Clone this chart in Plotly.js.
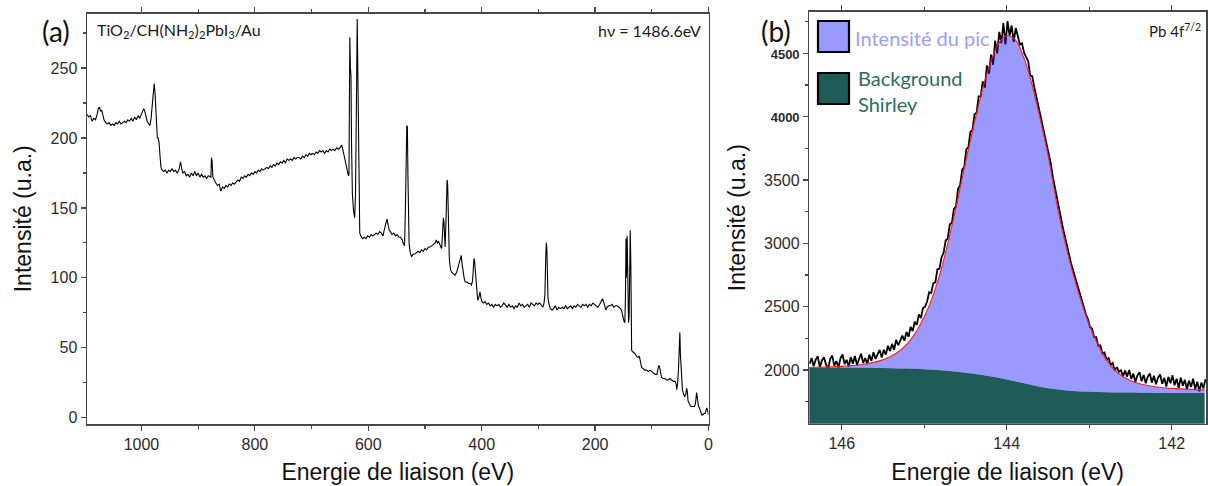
<!DOCTYPE html>
<html>
<head>
<meta charset="utf-8">
<script src="https://cdn.plot.ly/plotly-3.0.1.min.js"></script>
<style>
  html, body { margin: 0; padding: 0; background: #fff; }
  #chart { width: 1208px; height: 486px; }
</style>
</head>
<body>
<div id="chart"></div>
<script>
// (a) XPS survey spectrum: binding energy (eV) and intensity (a.u.)
const surveyEnergy = [
  1096,1093,1090,1087,1084,1081,1078,1076,1074,1072,1070,1068,1066,1063,1060,1057,1054,1051,1048,1045,
  1042,1039,1036,1033,1030,1027,1024,1021,1018,1015,1012,1009,1006,1003,1000,998,996,994,992,990,
  987,985,983,981,979,977.5,976,975,973.5,972,970.5,969,967,965.5,963.5,961,958,955,952,949,
  946,943,940,937,934,931,929,927,924,921,918,915,912,909,906,903,900,897,894,891,
  888,885,882,879,877.5,876.5,875.5,874,872,869,866,863,860,857,854,851,848,845,842,839,
  836,833,830,827,824,821,818,815,812,809,806,803,800,797,794,791,788,785,782,779,
  776,773,770,767,764,761,758,755,752,749,746,743,740,737,734,731,728,725,722,719,
  716,713,710,707,704,701,698,695,692,689,686,683,680,677,674,671,668,665,662,659,
  656,653,650,647,645,643,641,639,637,635,634,633.5,632.5,631.5,630.5,629.5,628,626,624,622.5,
  621.5,620.5,619.5,618.5,617.5,616.5,615,613,610,607,604,601,598,595,592,589,586,583,580,577,
  574,572,570,568,567,565,563,561,558,555,552,549,546,543,540,538,536,534.5,533.5,532,
  531,530,529,528,526,523.5,521,518,515,512,509,506,503,500,497,494,491,488,485,482,
  480,478,476,474,472,470.5,469,467.5,466.5,465.5,464.5,463,462,461,460,459,458,457,455,453,
  450,447,444,441,439,437,436,434.5,433,431,429,426,423,420.5,418,416,414.5,413.5,412.5,411,
  410,408.5,407,405,403,401,399.5,397,394,391,388,385,382,379,376,373,370,367,364,361,
  358,355,352,349,346,343,340,337,334,331,328,325,322,319,316,313,310,307,304,301,
  298,295,292,290,288.5,287,286,285,284,283,281,279,276,273,270,267,264,261,258,255,
  252,249,246,243,240,237,234,231,228,225,222,219,216,213,210,207,204,201,198,195,
  192,189,187,185,183,181,179,176,173,170,167,164,161,158,155,153,151,149,147.5,146.5,
  145.5,145,144.5,144,143.5,143,142,141,140,139,138,137,136.2,135.5,133,130,127,124,122,120,
  118,115,112,109,106,103,100,97,94,91,89,88,86.5,85,83,80,77,74,71,68,
  65,62,59,57,56,54.5,53,51.5,50.5,49.5,48.5,47,46,44,42,40,38.5,37.5,36,34,
  31,28,25,23,22,21,20,18,16,14,12,10,8,6,4,3,1.5,0
];
const surveyCounts = [
  217,215,216,212,214,213,217,221,222,219,220,215,213,211,210,211,209,210,209,211,
  210,212,210,211,212,211,213,212,214,212,215,213,216,214,217,220,221,219,214,212,
  210,209,214,222,230,239,232,224,210,200,200,197,186,179,177,176,177,175,177,176,
  178,176,177,175,177,183,178,175,176,173,174,172,175,173,176,173,175,172,174,172,
  173,171,173,172,172,186,184,172,170,168,166,167,162,165,164,166,165,167,166,168,
  167,169,170,169,172,171,173,172,174,173,175,174,176,175,177,176,178,177,178,179,
  178,180,179,181,180,182,181,183,182,184,182,185,184,185,184,186,185,186,186,185,
  187,186,188,187,189,188,189,188,190,189,191,190,191,189,191,190,192,191,192,191,
  193,192,193,195,192,188,185,180,175,173,174,200,272,250,245,196,160,148,143,160,
  185,240,285,250,220,158,132,130,128,129,128,130,129,131,130,131,132,131,133,132,
  130,134,137,140,142,138,134,133,131,132,130,131,129,129,127,124,123,150,172,209,
  208,172,140,125,118,115,117,117,118,119,118,120,119,121,120,122,122,123,124,125,
  127,125,126,123,122,121,130,143,140,125,122,140,165,170,167,150,130,113,106,104,
  103,102,104,108,112,115,116,110,104,100,97,97,96,96,95,98,108,114,112,102,
  96,90,84,86,90,85,83,82,83,81,82,80,81,79,81,80,81,79,80,82,
  80,79,81,79,80,78,80,79,82,80,81,79,80,81,79,82,81,80,82,81,
  82,80,79,82,88,115,125,120,100,85,81,78,77,78,80,77,79,78,79,78,
  80,78,79,80,78,80,79,81,80,79,81,80,81,79,81,80,82,81,80,79,
  81,83,85,83,79,77,79,80,80,81,79,80,80,79,78,76,72,69,68,85,
  128,100,126,110,130,115,75,68,72,120,134,110,60,48,47,46,44,43,44,41,
  36,35,34,34,33,34,33,32,31,31,35,37,37,32,29,28,28,27,27,28,
  27,26,26,24,20,24,34,50,61,45,34,24,20,17,15,17,21,19,12,10,
  8,8,8,10,15,18,15,9,7,5,2,2,3,3,5,7,5,2
];

// (b) Pb 4f7/2 core level: measured counts on a 0.025 eV grid starting at 146.39 eV
const pbStartEnergy = 146.39;
const pbStepEnergy = 0.025;
const pbCounts = [
  2048,2095,2030,2082,2108,2021,2075,2100,2042,2010,2086,2114,2035,2071,2019,2093,2122,2046,2080,2028,
  2102,2050,2111,2039,2087,2128,2054,2095,2046,2120,2072,2141,2087,2130,2158,2099,2160,2122,2191,2150,
  2206,2160,2238,2195,2229,2272,2231,2300,2263,2340,2308,2381,2356,2438,2410,2488,2500,2541,2614,2608,
  2686,2692,2795,2800,2890,2925,3022,3038,3150,3160,3272,3290,3430,3458,3580,3602,3741,3758,3880,3895,
  4020,4031,4160,4162,4278,4230,4405,4340,4490,4410,4600,4500,4670,4580,4740,4570,4755,4640,4720,4590,
  4700,4630,4570,4580,4508,4470,4440,4325,4320,4230,4155,4092,4020,3950,3862,3790,3710,3630,3522,3438,
  3345,3280,3190,3110,3040,2965,2900,2830,2775,2720,2650,2605,2540,2492,2440,2400,2340,2325,2260,2260,
  2190,2195,2130,2138,2082,2094,2040,2055,1995,2022,1985,1998,1950,1995,1948,2000,1930,1972,1905,1958,
  1982,1911,1960,1895,1948,1972,1900,1955,1888,1940,1965,1892,1938,1870,1946,1895,1958,1880,1931,1860,
  1940,1875,1922,1848,1915,1866,1932,1850,1908,1832,1900,1855,1928
];
const pbEnergy = pbCounts.map((_, i) => +(pbStartEnergy - pbStepEnergy * i).toFixed(3));

// Fitted envelope (peak + background)
const fitEnergy = [
  146.4,146.3,146.2,146.1,146.0,145.9,145.8,145.7,145.6,145.5,145.4,145.3,145.2,145.1,145.0,
  144.9,144.8,144.7,144.6,144.5,144.4,144.3,144.2,144.1,144.0,143.9,143.8,143.7,143.6,143.5,
  143.4,143.3,143.2,143.1,143.0,142.9,142.8,142.7,142.6,142.5,142.4,142.3,142.2,142.1,142.0,
  141.9,141.8,141.7,141.6
];
const fitCounts = [
  2020,2022,2024,2026,2029,2034,2040,2050,2062,2080,2108,2150,2210,2300,2420,
  2575,2780,3040,3330,3640,3930,4200,4420,4575,4640,4610,4480,4270,4000,3700,
  3340,3030,2770,2550,2360,2210,2090,2005,1952,1918,1894,1879,1868,1860,1855,
  1851,1848,1845,1843
];

// Shirley background
const shirleyEnergy = [
  146.4,146.2,146.0,145.8,145.6,145.4,145.2,145.0,144.8,144.6,144.4,144.2,
  144.0,143.8,143.6,143.4,143.2,143.0,142.8,142.6,142.4,142.0,141.6
];
const shirleyCounts = [
  2018,2018,2018,2017,2016,2014,2011,2006,1998,1987,1970,1950,
  1925,1897,1868,1848,1835,1828,1824,1822,1821,1819,1818
];

const W = 1208, H = 486;
const px = v => v / W;
const py = v => 1 - v / H;

const axisLine = '#474747';
const tickFont = { family: 'Liberation Sans, Arial, sans-serif', size: 16, color: '#2b2b2b' };
const titleFont = { family: 'Liberation Sans, Arial, sans-serif', size: 23, color: '#111' };
const labelFont = 'Lato, "Open Sans", sans-serif';
const peakColor = '#9999ff';
const shirleyColor = '#205c57';

const traces = [
  {
    x: surveyEnergy, y: surveyCounts, xaxis: 'x', yaxis: 'y',
    type: 'scatter', mode: 'lines', line: { color: '#000', width: 1.1 }, hoverinfo: 'skip'
  },
  {
    x: pbEnergy, y: pbCounts, xaxis: 'x2', yaxis: 'y2',
    type: 'scatter', mode: 'lines', line: { color: '#000', width: 1.8 }, hoverinfo: 'skip'
  },
  {
    x: shirleyEnergy, y: shirleyCounts, xaxis: 'x2', yaxis: 'y2',
    type: 'scatter', mode: 'lines', line: { color: shirleyColor, width: 0, shape: 'spline' },
    fill: 'tozeroy', fillcolor: shirleyColor, hoverinfo: 'skip'
  },
  {
    x: fitEnergy, y: fitCounts, xaxis: 'x2', yaxis: 'y2',
    type: 'scatter', mode: 'lines', line: { color: '#ff1a1a', width: 1.1, shape: 'spline' },
    fill: 'tonexty', fillcolor: 'rgba(0,0,255,0.4)', hoverinfo: 'skip'
  }
];

const baseAxis = {
  showline: true, linecolor: axisLine, linewidth: 1.5,
  ticks: 'outside', ticklen: 5, tickwidth: 1.2, tickcolor: axisLine,
  tickfont: tickFont, showgrid: false, zeroline: false
};

// legend swatches (paper coordinates)
const swatch = (top, color) => ({
  type: 'rect', xref: 'paper', yref: 'paper', layer: 'above',
  x0: px(818), x1: px(849), y0: py(top + 31), y1: py(top),
  fillcolor: color, line: { color: '#000', width: 2.2 }
});

const layout = {
  width: W, height: H,
  margin: { l: 0, r: 0, t: 0, b: 0 },
  paper_bgcolor: '#fff', plot_bgcolor: '#fff',
  showlegend: false,
  font: { family: 'Liberation Sans, Arial, sans-serif' },
  xaxis: Object.assign({}, baseAxis, {
    domain: [px(87), px(708.5)], anchor: 'y',
    range: [1096, 0], tickvals: [1000, 800, 600, 400, 200, 0], mirror: 'ticks',
    minor: { dtick: 100, tick0: 0, ticks: 'outside', ticklen: 3, tickcolor: axisLine },
    title: { text: 'Energie de liaison (eV)', font: titleFont, standoff: 12 }
  }),
  yaxis: Object.assign({}, baseAxis, {
    domain: [py(424), py(13.5)], anchor: 'x',
    range: [-4.5, 289], tickvals: [0, 50, 100, 150, 200, 250], mirror: true,
    minor: { dtick: 25, tick0: 0, ticks: 'outside', ticklen: 3, tickcolor: axisLine },
    title: { text: 'Intensité (u.a.)', font: titleFont, standoff: 12 }
  }),
  xaxis2: Object.assign({}, baseAxis, {
    domain: [px(809.3), px(1206)], anchor: 'y2',
    range: [146.393, 141.584], tickvals: [146, 144, 142], mirror: 'ticks',
    minor: { dtick: 1, tick0: 0, ticks: 'outside', ticklen: 3, tickcolor: axisLine },
    title: { text: 'Energie de liaison (eV)', font: titleFont, standoff: 12 }
  }),
  yaxis2: Object.assign({}, baseAxis, {
    domain: [py(423.7), py(11.7)], anchor: 'x2',
    range: [1576, 4829], mirror: true,
    tickvals: [2000, 2500, 3000, 3500, 4000, 4500],
    ticktext: ['2000', '2500', '3000', '3500',
      '<span style="font-size:13px;font-weight:bold">4000</span>',
      '<span style="font-size:13px;font-weight:bold">4500</span>'],
    minor: { dtick: 250, tick0: 0, ticks: 'outside', ticklen: 3, tickcolor: axisLine },
    title: { text: 'Intensité (u.a.)', font: titleFont, standoff: 12 }
  }),
  shapes: [swatch(21, peakColor), swatch(73, shirleyColor)],
  annotations: [
    { xref: 'paper', yref: 'paper', x: px(56), y: py(31), text: '(a)', showarrow: false,
      font: { family: labelFont, size: 28, color: '#111' }, xanchor: 'center', yanchor: 'middle' },
    { xref: 'paper', yref: 'paper', x: px(776), y: py(31), text: '(b)', showarrow: false,
      font: { family: labelFont, size: 28, color: '#111' }, xanchor: 'center', yanchor: 'middle' },
    { xref: 'paper', yref: 'paper', x: px(95), y: py(31),
      text: 'TiO<sub>2</sub>/CH(NH<sub>2</sub>)<sub>2</sub>PbI<sub>3</sub>/Au', showarrow: false,
      font: { family: labelFont, size: 16, color: '#1a1a1a' }, xanchor: 'left', yanchor: 'middle' },
    { xref: 'paper', yref: 'paper', x: px(703), y: py(31), text: 'hν = 1486.6eV', showarrow: false,
      font: { family: labelFont, size: 16, color: '#1a1a1a' }, xanchor: 'right', yanchor: 'middle' },
    { xref: 'paper', yref: 'paper', x: px(1203), y: py(30), text: 'Pb 4f<sup>7/2</sup>', showarrow: false,
      font: { family: labelFont, size: 15, color: '#1a1a1a' }, xanchor: 'right', yanchor: 'middle' },
    { xref: 'paper', yref: 'paper', x: px(853), y: py(38), text: 'Intensité du pic', showarrow: false,
      font: { family: labelFont, size: 20, color: '#9d9dff' }, xanchor: 'left', yanchor: 'middle' },
    { xref: 'paper', yref: 'paper', x: px(856), y: py(91), text: 'Background<br>Shirley', showarrow: false,
      align: 'left', font: { family: labelFont, size: 20, color: '#2e6c66' }, xanchor: 'left', yanchor: 'middle' }
  ]
};

Plotly.newPlot('chart', traces, layout, { staticPlot: true, displayModeBar: false });
</script>
</body>
</html>
